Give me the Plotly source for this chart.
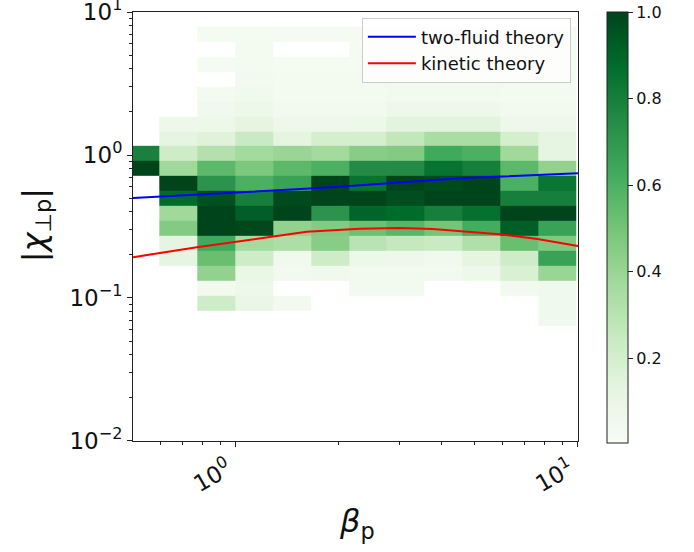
import plotly.graph_objects as go

N = None

# bin edges (beta_p along x, |chi| along y, top -> bottom)
beta_edges = [0.462, 0.597, 0.771, 0.995, 1.282, 1.656, 2.138, 2.754, 3.556, 4.592, 5.93, 7.66, 9.86]
chi_edges_top_down = [7.89, 6.20, 4.88, 3.836, 3.016, 2.371, 1.865, 1.466, 1.153, 0.906, 0.713,
                      0.5605, 0.4406, 0.3465, 0.2725, 0.2143, 0.1685, 0.1325, 0.1042, 0.0819, 0.0644]

# column-normalised density, rows listed from top (large chi) to bottom
density_top_down = [
    [N, N, .025, .025, .02, .02, .02, .02, .02, .02, .02, .02],
    [N, N, N, .03, N, N, .025, .025, .025, .025, .025, .025],
    [N, N, .025, .03, .025, .025, .025, .025, .025, .025, .025, .025],
    [N, N, N, .04, .03, .03, .03, .03, .03, .03, .03, .03],
    [N, N, .03, .06, .03, .03, .03, .04, .04, .04, .03, .03],
    [N, N, .05, .08, .04, .04, .04, .07, .07, .07, .04, .04],
    [N, .07, .08, .13, .07, .07, .08, .14, .14, .14, .07, .07],
    [N, .12, .15, .24, .13, .20, .20, .27, .35, .35, .20, .12],
    [.79, .22, .32, .37, .40, .37, .45, .46, .63, .60, .38, .12],
    [1.0, .38, .56, .48, .56, .60, .75, .75, .85, .80, .56, .42],
    [N, 1.0, .72, .60, .66, 1.0, .85, 1.0, .98, 1.0, .60, .84],
    [N, .88, .96, .80, .98, 1.0, 1.0, .97, 1.0, 1.0, .80, .80],
    [N, .38, 1.0, .92, 1.0, .72, .90, .88, .80, .86, 1.0, 1.0],
    [N, .46, 1.0, .99, .42, .46, .52, .57, .50, .62, .92, .66],
    [N, .12, .63, .36, .34, .45, .30, .26, .24, .33, .53, .47],
    [N, .12, .53, .22, .06, .22, .08, .07, .05, .13, .22, .66],
    [N, N, .42, .10, .04, .05, .04, .04, .04, .07, .18, .40],
    [N, N, .04, .07, N, N, .04, .04, N, N, .04, .05],
    [N, N, .22, .09, .04, N, N, N, N, N, N, .05],
    [N, N, N, N, N, N, N, N, N, N, N, .05],
]

# theory curves
two_fluid_beta = [0.5, 0.7, 1.0, 1.5, 2.0, 3.0, 4.0, 5.0, 7.0, 10.0]
two_fluid_chi = [0.50, 0.52, 0.545, 0.575, 0.60, 0.645, 0.675, 0.695, 0.717, 0.745]
kinetic_beta = [0.5, 0.769, 1.27, 1.61, 2.30, 3.01, 3.76, 4.57, 5.90, 7.62, 10.0]
kinetic_chi = [0.193, 0.226, 0.268, 0.291, 0.305, 0.309, 0.304, 0.294, 0.279, 0.259, 0.231]

greens = [[0, 'rgb(247,252,245)'], [0.125, 'rgb(229,245,224)'], [0.25, 'rgb(199,233,192)'],
          [0.375, 'rgb(161,217,155)'], [0.5, 'rgb(116,196,118)'], [0.625, 'rgb(65,171,93)'],
          [0.75, 'rgb(35,139,69)'], [0.875, 'rgb(0,109,44)'], [1, 'rgb(0,68,27)']]

FONT = "DejaVu Sans"

fig = go.Figure()
fig.add_trace(go.Heatmap(
    x=beta_edges,
    y=chi_edges_top_down[::-1],
    z=density_top_down[::-1],
    colorscale=greens, zmin=0.004, zmax=1.0002,
    showscale=True, hoverongaps=False,
    colorbar=dict(
        x=1.065, xanchor='left', xpad=0, ypad=0,
        y=0.4977, yanchor='middle', len=431, lenmode='pixels', thickness=21,
        outlinewidth=1, outlinecolor='#222',
        tickvals=[0.2, 0.4, 0.6, 0.8, 1.0], ticktext=['0.2', '0.4', '0.6', '0.8', '1.0'],
        ticks='outside', ticklen=5, tickcolor='#222', ticklabeloverflow='allow',
        tickfont=dict(family=FONT, size=16, color='#111'),
    ),
))
fig.add_trace(go.Scatter(x=two_fluid_beta, y=two_fluid_chi, mode='lines',
                         line=dict(color='#0000ff', width=2), name='two-fluid theory'))
fig.add_trace(go.Scatter(x=kinetic_beta, y=kinetic_chi, mode='lines',
                         line=dict(color='#ff0000', width=2), name='kinetic theory'))

x_minor = [0.6, 0.7, 0.8, 0.9, 2, 3, 4, 5, 6, 7, 8, 9]
y_minor = [0.02, 0.03, 0.04, 0.05, 0.06, 0.07, 0.08, 0.09,
           0.2, 0.3, 0.4, 0.5, 0.6, 0.7, 0.8, 0.9,
           2, 3, 4, 5, 6, 7, 8, 9]

fig.update_layout(
    width=694, height=552,
    margin=dict(l=133, r=116, t=12, b=111, autoexpand=False),
    paper_bgcolor='white', plot_bgcolor='white',
    font=dict(family=FONT, color='#111'),
    showlegend=True,
    legend=dict(x=0.984, xanchor='right', y=0.987, yanchor='top', itemwidth=48,
                bgcolor='rgba(255,255,255,0.8)', bordercolor='#cccccc', borderwidth=1,
                font=dict(family=FONT, size=18, color='#111')),
    xaxis=dict(type='log', range=[-0.30103, 1.0003], showgrid=False, zeroline=False,
               showline=True, linecolor='#222', linewidth=1, mirror=True,
               ticks='outside', ticklen=5, tickcolor='#222', ticklabeloverflow='allow',
               tickvals=[1, 10], ticktext=['10<sup>0</sup>', '10<sup>1</sup>'],
               tickangle=-30, ticklabelshift=-8,
               tickfont=dict(family=FONT, size=23, color='#111'),
               minor=dict(tickvals=x_minor, ticks='outside', ticklen=3, tickcolor='#222', showgrid=False)),
    yaxis=dict(type='log', range=[-2.0003, 1.0003], showgrid=False, zeroline=False,
               showline=True, linecolor='#222', linewidth=1, mirror=True,
               ticks='outside', ticklen=5, tickcolor='#222', ticklabeloverflow='allow',
               tickvals=[0.01, 0.1, 1, 10],
               ticktext=['10<sup>−2</sup>', '10<sup>−1</sup>', '10<sup>0</sup>', '10<sup>1</sup>'],
               tickfont=dict(family=FONT, size=23, color='#111'),
               minor=dict(tickvals=y_minor, ticks='outside', ticklen=3, tickcolor='#222', showgrid=False)),
    annotations=[
        dict(text='<i>β</i><sub>p</sub>', xref='paper', yref='paper', x=0.504, y=-0.19,
             xanchor='center', yanchor='middle', showarrow=False,
             font=dict(family=FONT, size=32, color='#111')),
        dict(text='|<i>χ</i><sub>⊥p</sub>|', xref='paper', yref='paper', x=-0.218, y=0.503,
             xanchor='center', yanchor='middle', textangle=-90, showarrow=False,
             font=dict(family=FONT, size=32, color='#111')),
    ],
)

fig.write_html("out.html", config={'displayModeBar': False},
               post_script="document.body.style.margin='0';")
